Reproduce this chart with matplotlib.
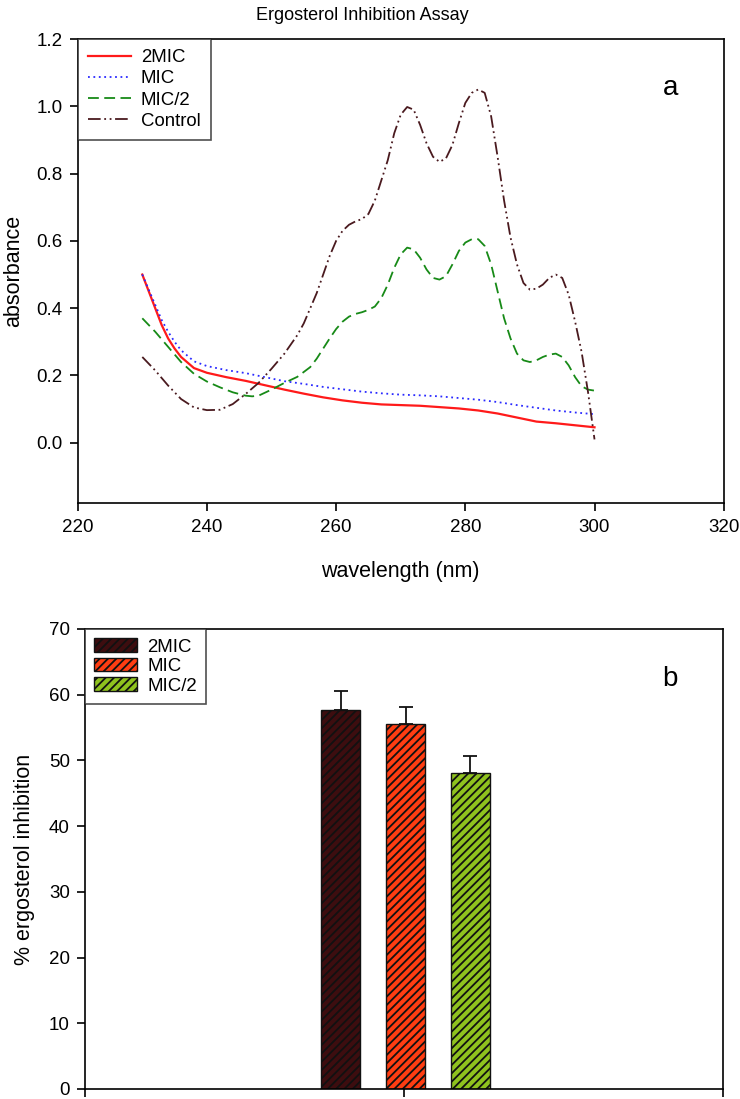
import numpy as np
import matplotlib
matplotlib.use("Agg")
from matplotlib import pyplot as plt

plt.rcParams['font.family'] = ['Liberation Sans', 'DejaVu Sans']
plt.rcParams['hatch.linewidth'] = 1.3
plt.rcParams['axes.linewidth'] = 1.2

# ---- panel a: absorbance spectra ----
wl_mic = [230, 231, 232, 233, 234, 235, 236, 238, 240, 243, 246, 249, 252, 255, 258,
          261, 264, 267, 270, 273, 276, 279, 282, 285, 288, 291, 294, 297, 300]
abs_2mic = [0.50, 0.45, 0.40, 0.35, 0.31, 0.28, 0.255, 0.222, 0.208, 0.195, 0.184,
            0.171, 0.158, 0.146, 0.135, 0.126, 0.119, 0.114, 0.112, 0.110, 0.106,
            0.102, 0.096, 0.087, 0.075, 0.063, 0.058, 0.052, 0.046]
abs_mic = [0.50, 0.455, 0.41, 0.365, 0.33, 0.30, 0.275, 0.242, 0.228, 0.216, 0.207,
           0.195, 0.183, 0.175, 0.166, 0.159, 0.152, 0.147, 0.143, 0.141, 0.138,
           0.133, 0.128, 0.121, 0.112, 0.104, 0.096, 0.090, 0.085]

wl_half = [230, 232, 234, 236, 238, 240, 242, 244, 246, 247, 248, 250, 252, 254, 256,
           257, 258, 259, 260, 261, 262, 263, 264, 265, 266, 267, 268, 269, 270, 271,
           272, 273, 274, 275, 276, 277, 278, 279, 280, 281, 282, 283, 284, 285, 286,
           287, 288, 289, 290, 291, 292, 293, 294, 295, 296, 297, 298, 299, 300]
abs_half = [0.37, 0.33, 0.285, 0.24, 0.205, 0.182, 0.165, 0.150, 0.140, 0.138, 0.140,
            0.158, 0.178, 0.196, 0.225, 0.25, 0.28, 0.31, 0.338, 0.36, 0.375, 0.383,
            0.388, 0.395, 0.405, 0.43, 0.47, 0.52, 0.56, 0.58, 0.575, 0.55, 0.515,
            0.49, 0.485, 0.495, 0.53, 0.57, 0.595, 0.605, 0.605, 0.585, 0.53, 0.45,
            0.37, 0.31, 0.265, 0.245, 0.24, 0.245, 0.255, 0.262, 0.265, 0.255, 0.23,
            0.195, 0.168, 0.158, 0.155]

wl_ctrl = [230, 232, 234, 236, 238, 240, 242, 244, 246, 248, 250, 252, 254, 255, 256,
           257, 258, 259, 260, 261, 262, 263, 264, 265, 266, 267, 268, 269, 270, 271,
           272, 273, 274, 275, 276, 277, 278, 279, 280, 281, 282, 283, 284, 285, 286,
           287, 288, 289, 290, 291, 292, 293, 294, 295, 296, 297, 298, 299, 300]
abs_ctrl = [0.255, 0.215, 0.17, 0.13, 0.105, 0.097, 0.098, 0.115, 0.145, 0.178, 0.22,
            0.265, 0.32, 0.355, 0.40, 0.445, 0.50, 0.555, 0.60, 0.63, 0.648, 0.658,
            0.665, 0.68, 0.72, 0.78, 0.84, 0.92, 0.975, 0.998, 0.99, 0.945, 0.89,
            0.85, 0.835, 0.845, 0.885, 0.95, 1.01, 1.04, 1.05, 1.04, 0.97, 0.85,
            0.72, 0.61, 0.53, 0.475, 0.455, 0.458, 0.47, 0.49, 0.50, 0.49, 0.44,
            0.36, 0.27, 0.15, 0.01]

# ---- panel b: % inhibition ----
groups = ['2MIC', 'MIC', 'MIC/2']
inhibition = [57.6, 55.5, 48.1]
inhib_err = [3.0, 2.7, 2.6]
bar_colors = ['#3d0d0f', '#ff3d12', '#8fc21e']

fig = plt.figure(figsize=(7.4, 10.99), dpi=100)
ax1 = fig.add_axes([0.105, 0.542, 0.873, 0.4225])
ax2 = fig.add_axes([0.115, 0.0091, 0.862, 0.4186])

ax1.plot(wl_mic, abs_2mic, color='#ff1a1a', lw=1.6, label='2MIC')
ax1.plot(wl_mic, abs_mic, color='#2a2aff', lw=1.3, ls=(0, (1, 2)), label='MIC')
ax1.plot(wl_half, abs_half, color='#178a17', lw=1.3, ls=(0, (6, 3)), label='MIC/2')
ax1.plot(wl_ctrl, abs_ctrl, color='#4a1a1f', lw=1.3,
         ls=(0, (7, 2, 1, 2, 1, 2)), label='Control')

ax1.set_xlim(220, 320)
ax1.set_ylim(-0.18, 1.2)
ax1.set_xticks(np.arange(220, 321, 20))
ax1.set_yticks(np.arange(0, 1.21, 0.2))
ax1.set_yticklabels(['%.1f' % v for v in np.arange(0, 1.21, 0.2)])
ax1.tick_params(direction='out', length=6, width=1.2, labelsize=13.5, pad=5,
                top=False, right=False)
ax1.set_xlabel('wavelength (nm)', fontsize=15.5)
ax1.set_ylabel('absorbance', fontsize=15.5)
ax1.xaxis.set_label_coords(0.5, -0.125)
ax1.yaxis.set_label_coords(-0.083, 0.5)
ax1.text(0.918, 0.894, 'a', transform=ax1.transAxes, fontsize=20,
         ha='center', va='center')
leg1 = ax1.legend(loc='upper left', bbox_to_anchor=(0, 1), borderaxespad=0,
                  fontsize=13.4, fancybox=False, handlelength=2.3,
                  handletextpad=0.55, labelspacing=0.22, borderpad=0.55)
leg1.get_frame().set_edgecolor('#222222')
leg1.get_frame().set_linewidth(1.2)

x_pos = [0.401, 0.503, 0.604]
for i in range(len(groups)):
    ax2.bar(x_pos[i], inhibition[i], width=0.061, color=bar_colors[i],
            edgecolor='#111111', hatch='////', lw=1.0, label=groups[i])
    ax2.errorbar(x_pos[i], inhibition[i], yerr=[[0], [inhib_err[i]]],
                 color='#111111', capsize=4.7, elinewidth=1.3, capthick=1.3)

ax2.set_xlim(0, 1)
ax2.set_ylim(0, 70)
ax2.set_xticks([0, 0.5, 1])
ax2.set_xticklabels([])
ax2.set_yticks(np.arange(0, 71, 10))
ax2.tick_params(direction='out', length=6, width=1.2, labelsize=13.5, pad=5,
                top=False, right=False)
ax2.set_ylabel('% ergosterol inhibition', fontsize=15.5)
ax2.yaxis.set_label_coords(-0.078, 0.5)
ax2.text(0.917, 0.891, 'b', transform=ax2.transAxes, fontsize=20,
         ha='center', va='center')
leg2 = ax2.legend(loc='upper left', bbox_to_anchor=(0, 1), borderaxespad=0,
                  fontsize=13.4, fancybox=False, handlelength=2.3, handleheight=0.75,
                  handletextpad=0.55, labelspacing=0.12, borderpad=0.5)
leg2.get_frame().set_edgecolor('#222222')
leg2.get_frame().set_linewidth(1.2)

fig.text(0.49, 1 - 16 / 1099, 'Ergosterol Inhibition Assay', fontsize=13,
         ha='center', va='center')

plt.savefig('out.png', dpi=100)
